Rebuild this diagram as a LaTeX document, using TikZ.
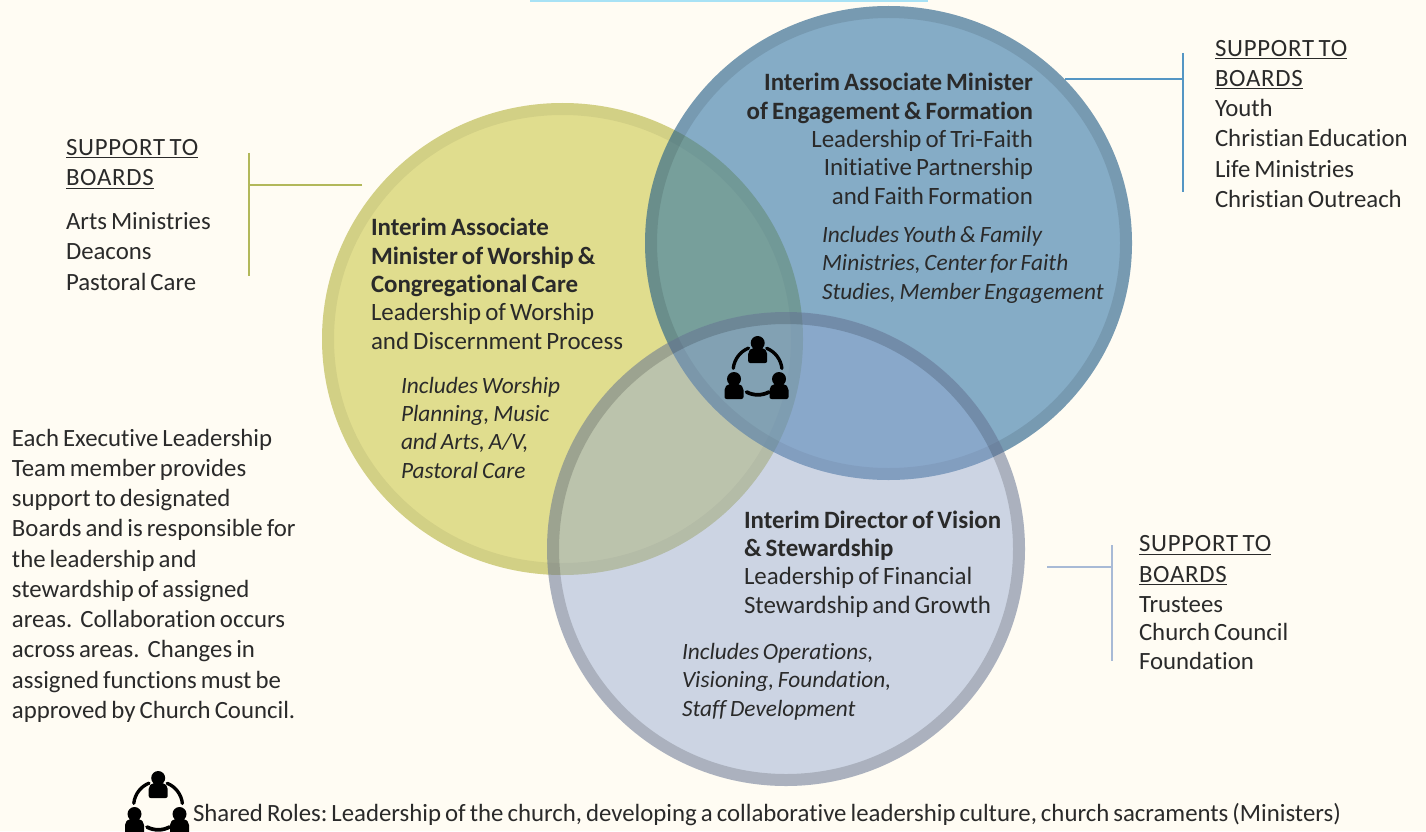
\documentclass[tikz,border=0pt]{standalone}
\usepackage{fontspec}
\usetikzlibrary{shapes.geometric}
\setmainfont{Carlito}[WordSpace=0.72,Ligatures=CommonOff]
\frenchspacing
\definecolor{paper}{HTML}{FFFCF3}
\definecolor{yfill}{HTML}{E0DD8E}
\definecolor{bfill}{HTML}{2970A5}
\definecolor{lfill}{HTML}{90A4D1}
\definecolor{ink}{HTML}{2A2A2A}
\definecolor{topline}{RGB}{168,226,245}
\definecolor{ytick}{RGB}{178,184,90}
\definecolor{btick}{RGB}{84,150,196}
\definecolor{ltick}{RGB}{168,186,214}
\newcommand{\boardhead}[1]{\underline{\addfontfeature{LetterSpace=3}#1}}
\tikzset{
  x=0.75pt,y=-0.75pt,
  venn/.style={ellipse,draw=none,inner sep=0pt,outer sep=0pt},
  rim/.style={line width=9pt,draw=black,draw opacity=#1},
  txt/.style={inner sep=0pt,outer sep=0pt,text=ink,align=left,anchor=base west,font=\fontsize{18.6}{22.7}\selectfont},
  tight/.style={txt,font=\fontsize{18.7}{21.2}\selectfont},
  txr/.style={tight,align=right,anchor=base east},
  ital/.style={txt,font=\fontsize{17.5}{21.2}\selectfont\itshape},
  tick/.style={line width=1.5pt},
  pics/people/.style={code={
    \foreach \px/\py in {0.2/-28,-23.5/8,21.5/8}{
      \begin{scope}[shift={(\px,\py)}]
        \fill[black] (0,0) circle[radius=7];
        \fill[black,rounded corners=1.5pt] (-6,5) -- (6,5) -- (9.5,9) -- (9.5,20) -- (-9.5,20) -- (-9.5,9) -- cycle;
      \end{scope}
    }
    \draw[black,line width=2.5pt,line cap=round] (-24.2,-2.7) arc[start angle=186,end angle=248,radius=24.5];
    \draw[black,line width=2.5pt,line cap=round] (9.2,-22.7) arc[start angle=292,end angle=354,radius=24.5];
    \draw[black,line width=2.8pt,line cap=round] (-11,21) arc[start angle=118,end angle=62,radius=24];
  }}
}
\begin{document}
\begin{tikzpicture}
\useasboundingbox (0,0) rectangle (1426,831);
\clip (0,0) rectangle (1426,831);
\fill[paper] (0,0) rectangle (1426,831);
\coordinate (ts) at (530,0.8); \coordinate (te) at (928,0.8);
\draw[topline,line width=1.5pt] (ts) -- (te);

% circles
\node[venn,fill=yfill,minimum width=360.75pt,minimum height=354pt] (yc) at (562.5,339) {};
\draw[rim=.06] (562.5,339) ellipse[x radius=234.5,y radius=230];
\node[venn,fill=bfill,fill opacity=.57,minimum width=365.25pt,minimum height=355.5pt] (bc) at (888.5,243) {};
\draw[rim=.10] (888.5,243) ellipse[x radius=237.5,y radius=231];
\node[venn,fill=lfill,fill opacity=.45,minimum width=358.5pt,minimum height=355.5pt] (lc) at (786,549) {};
\draw[rim=.16] (786,549) ellipse[x radius=233,y radius=231];

% connectors
\coordinate (ya) at (362,185); \coordinate (yb) at (249,185); \coordinate (yt) at (249,153); \coordinate (yu) at (249,276);
\draw[tick,ytick] (ya) -- (yb) (yt) -- (yu);
\coordinate (ba) at (1065,79); \coordinate (bb) at (1183,79); \coordinate (bt) at (1183,53); \coordinate (bu) at (1183,192);
\draw[tick,btick] (ba) -- (bb) (bt) -- (bu);
\coordinate (la) at (1047,567); \coordinate (lb) at (1112,567); \coordinate (lt) at (1112,545); \coordinate (lu) at (1112,661);
\draw[tick,ltick] (la) -- (lb) (lt) -- (lu);

% icons
\pic at (757.5,371) {people};
\pic at (158,806) {people};

% texts
\node[txt] (sl) at (66,290) {\boardhead{SUPPORT TO}\\\boardhead{BOARDS}\\[10pt]Arts Ministries\\Deacons\\Pastoral Care};
\node[txt] (sr) at (1215,207.5) {\boardhead{SUPPORT TO}\\\boardhead{BOARDS}\\Youth\\Christian Education\\Life Ministries\\Christian Outreach};
\node[txt] (sb) at (1139,669) {\boardhead{SUPPORT TO}\\\boardhead{BOARDS}\\Trustees\\[-1.5pt]Church Council\\[-1.5pt]Foundation};
\node[txr] (bt1) at (1033,204) {\textbf{Interim Associate Minister}\\\textbf{of Engagement \& Formation}\\Leadership of Tri-Faith\\Initiative Partnership\\and Faith Formation};
\node[ital] (bi) at (822,299) {Includes Youth \& Family\\Ministries, Center for Faith\\Studies, Member Engagement};
\node[tight] (yt1) at (371,349) {\textbf{Interim Associate}\\\textbf{Minister of Worship \&}\\\textbf{Congregational Care}\\Leadership of Worship\\and Discernment Process};
\node[ital] (yi) at (401,478) {Includes Worship\\Planning, Music\\and Arts, A/V,\\Pastoral Care};
\node[tight] (lt1) at (744,613) {\textbf{Interim Director of Vision}\\\textbf{\& Stewardship}\\Leadership of Financial\\Stewardship and Growth};
\node[ital] (li) at (682,716) {Includes Operations,\\Visioning, Foundation,\\Staff Development};
\node[txt] (note) at (12,718.5) {Each Executive Leadership\\Team member provides\\support to designated\\Boards and is responsible for\\the leadership and\\stewardship of assigned\\areas.\ \ Collaboration occurs\\across areas.\ \ Changes in\\assigned functions must be\\approved by Church Council.};
\node[txt] (sh) at (193,821) {Shared Roles: Leadership of the church, developing a collaborative leadership culture, church sacraments (Ministers)};
\end{tikzpicture}
\end{document}
